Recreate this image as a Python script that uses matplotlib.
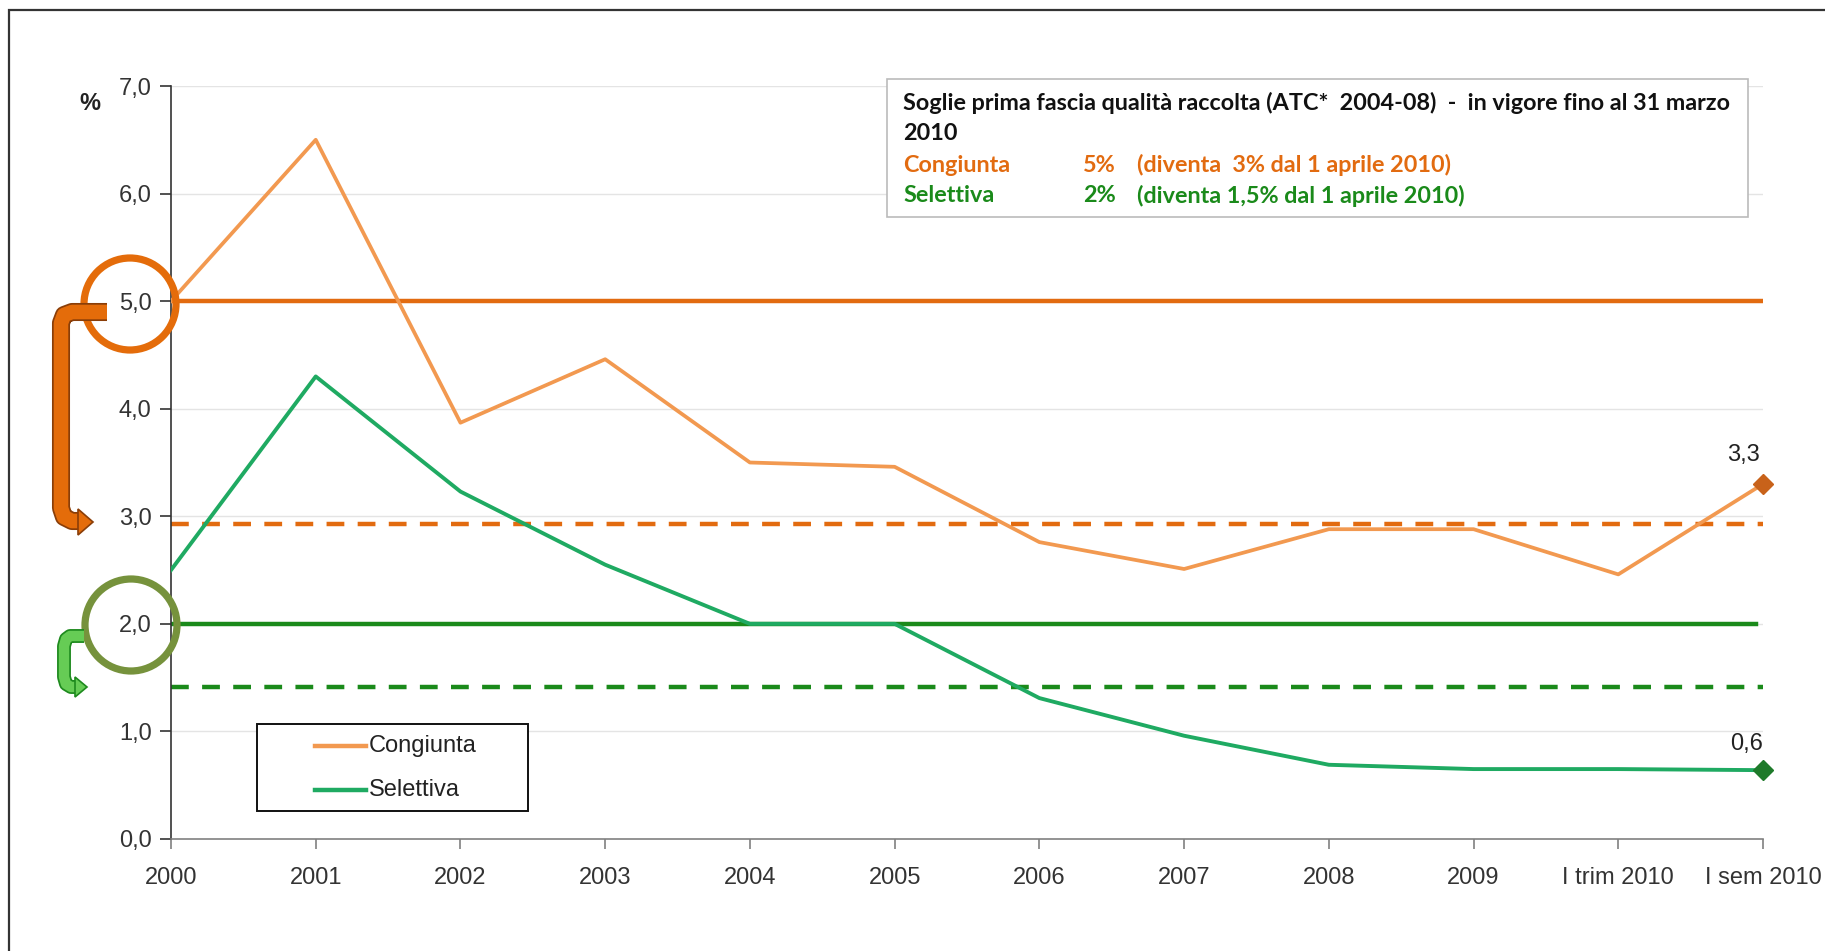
import matplotlib
matplotlib.use("Agg")
import matplotlib.pyplot as plt
from matplotlib.patches import Ellipse, Rectangle, Polygon
from matplotlib.lines import Line2D
from matplotlib.path import Path
from matplotlib.patches import PathPatch
from matplotlib.ticker import FuncFormatter

# ---------------- data ----------------
categories = ["2000", "2001", "2002", "2003", "2004", "2005", "2006", "2007",
              "2008", "2009", "I trim 2010", "I sem 2010"]
congiunta = [5.0, 6.5, 3.87, 4.46, 3.5, 3.46, 2.76, 2.51, 2.88, 2.88, 2.46, 3.3]
selettiva = [2.5, 4.3, 3.23, 2.55, 2.0, 2.0, 1.31, 0.96, 0.69, 0.65, 0.65, 0.64]
series_names = ["Congiunta", "Selettiva"]
soglia_congiunta_old = 5.0
soglia_congiunta_new = 2.93
soglia_selettiva_old = 2.0
soglia_selettiva_new = 1.41
end_labels = ["3,3", "0,6"]
yticks = [0, 1, 2, 3, 4, 5, 6, 7]

W, H = 1825, 951
C_CONG = "#F29950"
C_SEL = "#1FAA62"
C_OR = "#E26B10"
C_GR = "#1A8A1A"
C_OR_DARK = "#C8621A"
C_GR_DARK = "#1E7A2A"

plt.rcParams['font.family'] = ['Liberation Sans', 'DejaVu Sans']

fig = plt.figure(figsize=(W / 100, H / 100), dpi=100)
fig.patch.set_facecolor("white")


def P(x, y):
    """pixel (from top-left) -> figure fraction"""
    return (x / W, 1 - y / H)


ax_left, ax_right = 171, 1763
ax_top, ax_bot = 86, 839
ax = fig.add_axes([ax_left / W, 1 - ax_bot / H, (ax_right - ax_left) / W, (ax_bot - ax_top) / H])

x = list(range(len(categories)))
ax.set_xlim(0, len(categories) - 1)
ax.set_ylim(0, 7)

# gridlines
for yv in yticks[1:]:
    ax.axhline(yv, color="#E4E4E4", lw=1.0, zorder=0)

# threshold lines
ax.plot([0, 11], [soglia_congiunta_old] * 2, color=C_OR, lw=3.2, zorder=2)
ax.plot([0, 11], [soglia_congiunta_new] * 2, color=C_OR, lw=3.2, ls=(0, (4, 3)), zorder=2)
ax.plot([0, 10.95], [soglia_selettiva_old] * 2, color=C_GR, lw=3.2, zorder=2)
ax.plot([0, 11], [soglia_selettiva_new] * 2, color=C_GR, lw=3.2, ls=(0, (4, 3)), zorder=2)

# series
ax.plot(x, congiunta, color=C_CONG, lw=2.7, zorder=3)
ax.plot(x, selettiva, color=C_SEL, lw=2.8, zorder=3)
ax.plot([x[-1]], [congiunta[-1]], marker="D", ms=10, color=C_OR_DARK, zorder=4, clip_on=False)
ax.plot([x[-1]], [selettiva[-1]], marker="D", ms=10, color=C_GR_DARK, zorder=4, clip_on=False)
ax.annotate(end_labels[0], (x[-1], congiunta[-1]), xytext=(-14, 21), textcoords="offset points",
            ha="center", va="center", fontsize=17, color="#222222")
ax.annotate(end_labels[1], (x[-1], selettiva[-1]), xytext=(-12, 19), textcoords="offset points",
            ha="center", va="center", fontsize=17, color="#222222")

# axes style
for s in ["top", "right"]:
    ax.spines[s].set_visible(False)
ax.spines["left"].set_color("#333333")
ax.spines["bottom"].set_color("#808080")
ax.spines["left"].set_linewidth(1.2)
ax.spines["bottom"].set_linewidth(1.2)
ax.set_xticks(x)
ax.set_xticklabels(categories)
ax.set_yticks(yticks)
ax.yaxis.set_major_formatter(FuncFormatter(lambda v, p: f"{v:.1f}".replace(".", ",")))
ax.tick_params(axis="y", length=8, width=1.2, color="#333333", labelsize=17, labelcolor="#333333", pad=6)
ax.tick_params(axis="x", length=7, width=1.2, color="#808080", labelsize=17, labelcolor="#333333", pad=13)

# legend (manual, in figure pixels)
fig.add_artist(Rectangle(P(257, 811), (528 - 257) / W, (811 - 724) / H, transform=fig.transFigure,
                         facecolor="white", edgecolor="#111111", lw=1.4, zorder=5))
for (name, col, yy) in [(series_names[0], C_CONG, 746), (series_names[1], C_SEL, 790)]:
    fig.add_artist(Line2D([315 / W, 366 / W], [1 - yy / H] * 2, transform=fig.transFigure,
                          color=col, lw=3.2, zorder=6))
    fig.text(*P(369, yy), name, fontsize=17, color="#222222", va="center", ha="left", zorder=6)

# "%" label
fig.text(*P(90, 103), "%", fontsize=17, fontweight="bold", ha="center", va="center", color="#222222")

# text box
box = Rectangle(P(887, 217), (1748 - 887) / W, (217 - 79) / H, transform=fig.transFigure,
                facecolor="white", edgecolor="#BBBBBB", lw=1.2, zorder=5)
fig.add_artist(box)
tf = dict(fontsize=16.8, family=['Lato', 'DejaVu Sans'], transform=fig.transFigure, zorder=6, va="center")
fig.text(*P(903, 103), "Soglie prima fascia qualità raccolta (ATC*  2004-08)  -  in vigore fino al 31 marzo",
         fontweight="bold", color="#111111", **tf)
fig.text(*P(903, 134), "2010", fontweight="bold", color="#111111", **tf)
fig.text(*P(903, 165), "Congiunta", fontweight="bold", color="#E26B10", **tf)
fig.text(*P(1083, 165), "5%", fontweight="bold", color="#E26B10", **tf)
fig.text(*P(1137, 165), "(diventa  3% dal 1 aprile 2010)", fontweight="bold", color="#E26B10", **tf)
fig.text(*P(903, 196), "Selettiva", fontweight="bold", color="#1A8A1A", **tf)
fig.text(*P(1083, 196), "2%", fontweight="bold", color="#1A8A1A", **tf)
fig.text(*P(1137, 196), "(diventa 1,5% dal 1 aprile 2010)", fontweight="bold", color="#1A8A1A", **tf)

# circles
r = 46
for (cx, cy, col) in [(130, 304, "#E46C0A"), (131, 625, "#76923C")]:
    e = Ellipse(P(cx, cy), 2 * r / W, 2 * r / H, transform=fig.transFigure,
                facecolor="none", edgecolor=col, lw=5.2, zorder=7)
    fig.add_artist(e)


def bent_arrow(pts_px, lw, face, edge, head):
    verts = [P(*p) for p in pts_px]
    codes = [Path.MOVETO] + [Path.LINETO] * (len(verts) - 1)
    pe = PathPatch(Path(verts, codes), transform=fig.transFigure, facecolor="none",
                   edgecolor=edge, lw=lw + 2.5, capstyle="butt", joinstyle="round", zorder=7)
    pf = PathPatch(Path(verts, codes), transform=fig.transFigure, facecolor="none",
                   edgecolor=face, lw=lw, capstyle="butt", joinstyle="round", zorder=8)
    fig.add_artist(pe)
    fig.add_artist(pf)
    hx, hy, hw, hl = head
    tri = Polygon([P(hx, hy - hw), P(hx + hl, hy), P(hx, hy + hw)], closed=True,
                  transform=fig.transFigure, facecolor=face, edgecolor=edge, lw=1.2, zorder=9)
    fig.add_artist(tri)


# orange bent arrow
bent_arrow([(107, 312), (72, 312), (64, 315), (61, 323), (61, 508), (64, 517), (72, 521), (80, 521)],
           10.5, "#E46C0A", "#8A3E08", (78, 522, 13, 15))
# green bent arrow
bent_arrow([(84, 636), (70, 636), (66, 639), (64, 646), (64, 677), (66, 684), (71, 687), (77, 687)],
           7.5, "#66CC55", "#1E8A1E", (75, 687, 10, 12))

# outer frame (left and top visible)
frame = Rectangle(P(9, 1200), 3000 / W, (1200 - 10) / H, transform=fig.transFigure,
                  facecolor="none", edgecolor="#333333", lw=1.6, zorder=10, clip_on=False)
fig.add_artist(frame)

fig.savefig("out.png", dpi=100)
